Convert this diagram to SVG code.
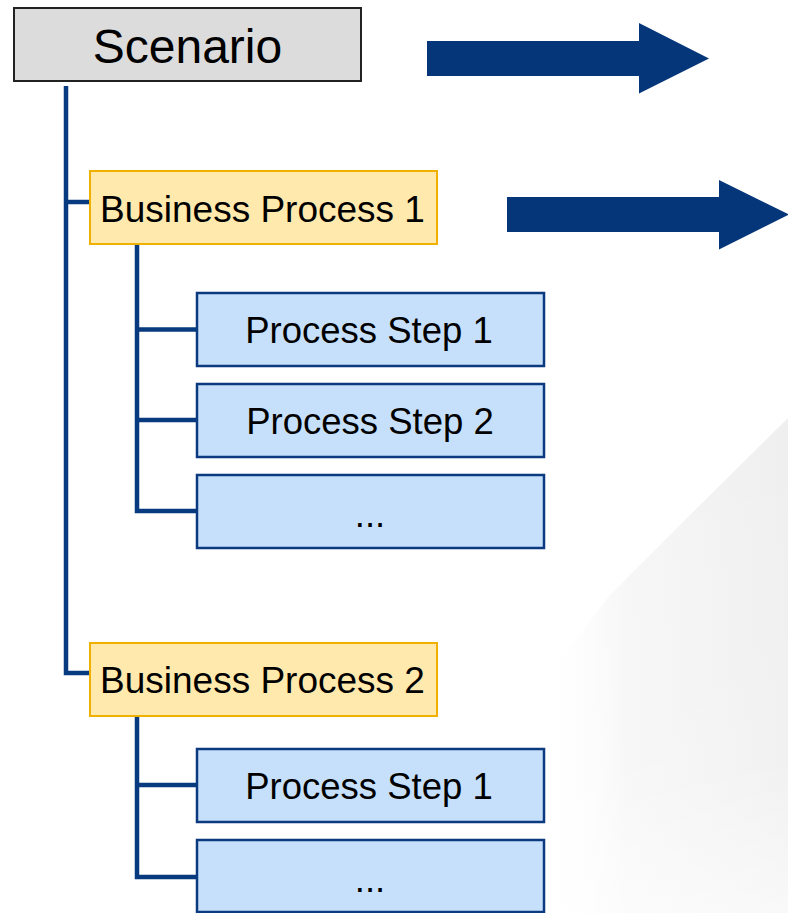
<svg xmlns="http://www.w3.org/2000/svg" width="788" height="913" viewBox="0 0 788 913">
  <defs>
    <linearGradient id="wmH" x1="0" y1="0" x2="1" y2="0">
      <stop offset="0" stop-color="#ffffff" stop-opacity="0"/>
      <stop offset="0.35" stop-color="#f6f6f6" stop-opacity="1"/>
      <stop offset="1" stop-color="#efefef" stop-opacity="1"/>
    </linearGradient>
    <linearGradient id="wmV" x1="0" y1="0" x2="0" y2="1">
      <stop offset="0" stop-color="#ffffff" stop-opacity="0"/>
      <stop offset="0.7" stop-color="#ffffff" stop-opacity="0.15"/>
      <stop offset="1" stop-color="#ffffff" stop-opacity="0.6"/>
    </linearGradient>
    <style>
      .lbl { font-family: "Liberation Sans", Arial, sans-serif; fill: #000; }
      .scn { fill: #dcdcdc; stroke: #222222; stroke-width: 2; }
      .bp { fill: #ffe9ad; stroke: #f0b000; stroke-width: 2; }
      .ps { fill: #c6e0fb; stroke: #0b3a80; stroke-width: 2.5; }
      .con { fill: none; stroke: #073a7e; stroke-width: 4.5; stroke-linejoin: miter; stroke-linecap: butt; }
      .arr { fill: #06367a; }
    </style>
  </defs>

  <rect width="788" height="913" fill="#ffffff"/>

  <g id="watermark">
    <polygon points="788,418 700,505 610,595 545,680 540,913 788,913" fill="url(#wmH)"/>
    <polygon points="788,418 700,505 610,595 545,680 540,913 788,913" fill="url(#wmV)"/>
  </g>

  <g id="connectors">
    <polyline class="con" points="66,86 66,673 90,673"/>
    <line class="con" x1="66" y1="202" x2="90" y2="202"/>
    <polyline class="con" points="137,244 137,511 197,511"/>
    <line class="con" x1="137" y1="329.5" x2="197" y2="329.5"/>
    <line class="con" x1="137" y1="420" x2="197" y2="420"/>
    <polyline class="con" points="137,716 137,877 197,877"/>
    <line class="con" x1="137" y1="785" x2="197" y2="785"/>
  </g>

  <g id="arrow1">
    <polygon class="arr" points="427,41 639,41 639,23 709,58.5 639,93.5 639,76 427,76"/>
  </g>
  <g id="arrow2">
    <polygon class="arr" points="507,197 719,197 719,180 789,214.5 719,249.5 719,232 507,232"/>
  </g>

  <g id="scenario">
    <rect class="scn" x="14" y="8" width="347" height="73"/>
    <text class="lbl" x="187.5" y="63" font-size="48" text-anchor="middle">Scenario</text>
  </g>

  <g id="bp1">
    <rect class="bp" x="90" y="171" width="347" height="73"/>
    <text class="lbl" x="100" y="222" font-size="37">Business Process 1</text>
  </g>

  <g id="bp1-step1">
    <rect class="ps" x="197" y="293" width="347" height="73"/>
    <text class="lbl" x="369" y="343" font-size="36.5" text-anchor="middle">Process Step 1</text>
  </g>
  <g id="bp1-step2">
    <rect class="ps" x="197" y="384" width="347" height="73"/>
    <text class="lbl" x="370" y="434" font-size="36.5" text-anchor="middle">Process Step 2</text>
  </g>
  <g id="bp1-step3">
    <rect class="ps" x="197" y="475" width="347" height="73"/>
    <text class="lbl" x="370" y="527" font-size="36.5" text-anchor="middle">...</text>
  </g>

  <g id="bp2">
    <rect class="bp" x="90" y="643" width="347" height="73"/>
    <text class="lbl" x="100" y="693" font-size="37">Business Process 2</text>
  </g>

  <g id="bp2-step1">
    <rect class="ps" x="197" y="749" width="347" height="73"/>
    <text class="lbl" x="369" y="799" font-size="36.5" text-anchor="middle">Process Step 1</text>
  </g>
  <g id="bp2-step2">
    <rect class="ps" x="197" y="840" width="347" height="72"/>
    <text class="lbl" x="370" y="892" font-size="36.5" text-anchor="middle">...</text>
  </g>
</svg>
